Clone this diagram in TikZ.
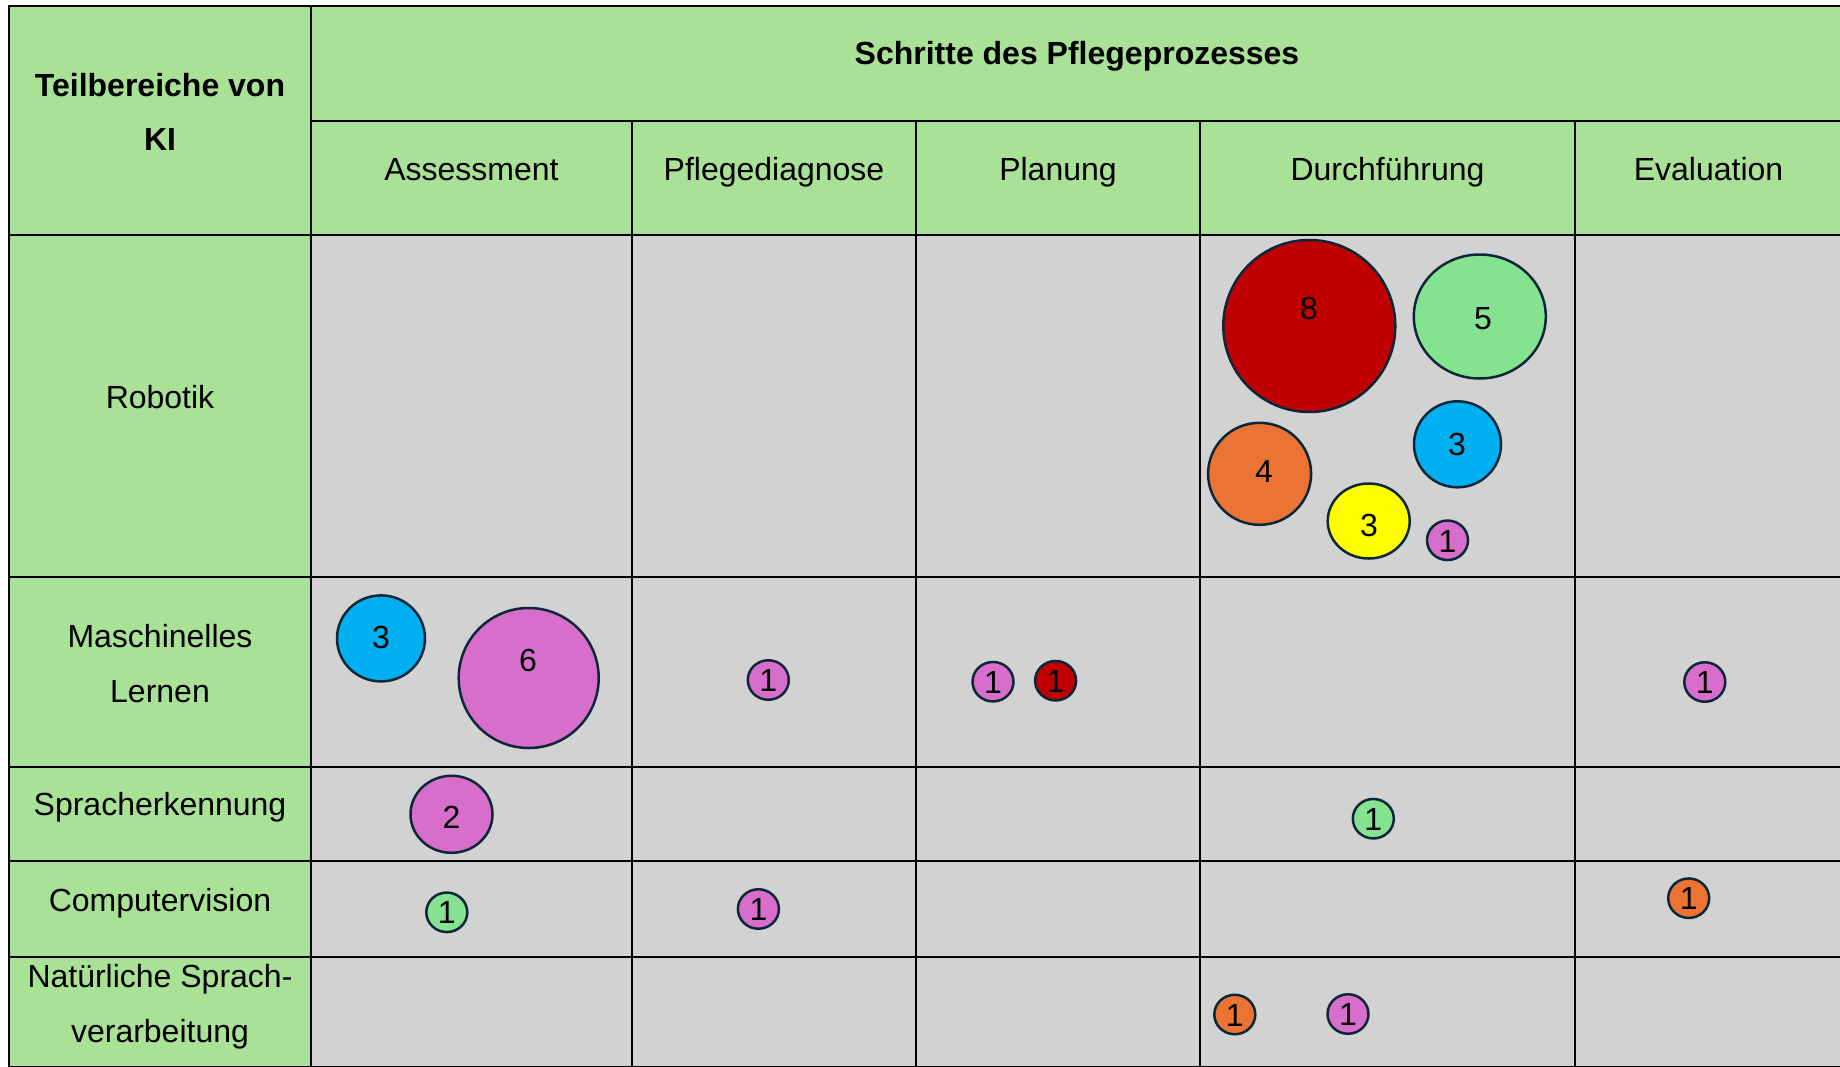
\documentclass[tikz,border=0pt]{standalone}
\usepackage{fontspec}
\setmainfont{Liberation Sans}
\usetikzlibrary{shapes.geometric}
\definecolor{hdr}{HTML}{A9E196}
\definecolor{cellg}{HTML}{D2D2D2}
\definecolor{edge}{HTML}{0D2738}
\definecolor{bred}{HTML}{C00000}
\definecolor{bgreen}{HTML}{85E291}
\definecolor{bblue}{HTML}{00B0F0}
\definecolor{borange}{HTML}{EB7334}
\definecolor{byellow}{HTML}{FFFF00}
\definecolor{bpink}{HTML}{D86ECC}
\begin{document}
\begin{tikzpicture}[x=1pt,y=-1pt,
  txt/.style={anchor=base, inner sep=0pt, font=\fontsize{32}{38}\selectfont},
  boldtxt/.style={anchor=base, inner sep=0pt, font=\fontsize{32}{38}\selectfont\bfseries},
  num/.style={anchor=base, inner sep=0pt, font=\fontsize{32}{38}\selectfont},
  bub/.style={ellipse, draw=edge, line width=2.5pt, inner sep=0pt, outer sep=0pt},
  smallbub/.style={bub, minimum width=41pt, minimum height=39.5pt},
  gridline/.style={line width=2.5pt, black}]
\useasboundingbox (0,0) rectangle (1840,1066);
\clip (0,0) rectangle (1840,1066);
% backgrounds
\fill[hdr] (9,6) rectangle (1842,235);
\fill[hdr] (9,235) rectangle (311,1067);
\fill[cellg] (311,235) rectangle (1842,1067);
% grid
\draw[gridline] (9,6) rectangle (1842,1067);
\draw[gridline] (311,6) -- (311,1067);
\draw[gridline] (311,121) -- (1842,121);
\foreach \yy in {235,577,767,861,957} {\draw[gridline] (9,\yy) -- (1842,\yy);}
\foreach \xx in {632,916,1200,1575} {\draw[gridline] (\xx,121) -- (\xx,1067);}
% header texts
\node[boldtxt] (t1) at (160,96.2) {Teilbereiche von};
\node[boldtxt] (t2) at (160,150.2) {KI};
\node[boldtxt] (sch) at (1077,64.6) {Schritte des Pflegeprozesses};
\node[txt] (h1) at (471.5,180) {Assessment};
\node[txt] (h2) at (774,180) {Pflegediagnose};
\node[txt] (h3) at (1058,180) {Planung};
\node[txt] (h4) at (1387.5,180) {Durchführung};
\node[txt] (h5) at (1708.5,180) {Evaluation};
% row labels
\node[txt] (r1) at (160,408) {Robotik};
\node[txt] (r2a) at (160,647) {Maschinelles};
\node[txt] (r2b) at (160,702) {Lernen};
\node[txt] (r3) at (160,815) {Spracherkennung};
\node[txt] (r4) at (160,911) {Computervision};
\node[txt] (r5a) at (160,987) {Natürliche Sprach-};
\node[txt] (r5b) at (160,1042) {verarbeitung};
% Robotik / Durchfuehrung
\node[bub, fill=bred, minimum width=172pt, minimum height=172pt] (c8) at (1309.3,326) {};
\node[num] (n8) at (1309,319.5) {8};
\node[bub, fill=bgreen, minimum width=132pt, minimum height=124pt] (c5) at (1479.8,316.5) {};
\node[num] (n5) at (1483,329.5) {5};
\node[bub, fill=bblue, minimum width=87pt, minimum height=86pt] (c3b) at (1457.5,444.3) {};
\node[num] (n3b) at (1457,455) {3};
\node[bub, fill=borange, minimum width=103pt, minimum height=102pt] (c4) at (1259.6,473.8) {};
\node[num] (n4) at (1264,482.3) {4};
\node[bub, fill=byellow, minimum width=82pt, minimum height=75pt] (c3y) at (1368.7,521) {};
\node[num] (n3y) at (1369,536) {3};
\node[smallbub, fill=bpink] (c1a) at (1447.5,540.3) {};
\node[num] (n1a) at (1447.5,552.5) {1};
% Maschinelles Lernen
\node[bub, fill=bblue, minimum width=88pt, minimum height=86pt] (c3m) at (381,638.4) {};
\node[num] (n3m) at (381,648) {3};
\node[bub, fill=bpink, minimum width=140pt, minimum height=140pt] (c6) at (528.7,678) {};
\node[num] (n6) at (528,671) {6};
\node[smallbub, fill=bpink] (c1b) at (768.3,680) {};
\node[num] (n1b) at (768.3,691.5) {1};
\node[smallbub, fill=bpink] (c1c) at (993,681.7) {};
\node[num] (n1c) at (993,693.2) {1};
\node[smallbub, fill=bred] (c1d) at (1055.6,680.7) {};
\node[num] (n1d) at (1055.6,692.2) {1};
\node[smallbub, fill=bpink] (c1e) at (1704.8,682) {};
\node[num] (n1e) at (1704.8,693.5) {1};
% Spracherkennung
\node[bub, fill=bpink, minimum width=82pt, minimum height=77pt] (c2) at (451.5,814.3) {};
\node[num] (n2) at (451.5,828) {2};
\node[smallbub, fill=bgreen] (c1f) at (1373.3,818.7) {};
\node[num] (n1f) at (1373.3,830.2) {1};
% Computervision
\node[smallbub, fill=bgreen] (c1g) at (446.8,912.3) {};
\node[num] (n1g) at (446.8,923.8) {1};
\node[smallbub, fill=bpink] (c1h) at (758.4,909) {};
\node[num] (n1h) at (758.4,920.5) {1};
\node[smallbub, fill=borange] (c1i) at (1688.7,898.2) {};
\node[num] (n1i) at (1688.7,909.7) {1};
% NLP
\node[smallbub, fill=borange] (c1j) at (1234.8,1014.5) {};
\node[num] (n1j) at (1234.8,1026) {1};
\node[smallbub, fill=bpink] (c1k) at (1348,1014) {};
\node[num] (n1k) at (1348,1025.5) {1};
\end{tikzpicture}
\end{document}
